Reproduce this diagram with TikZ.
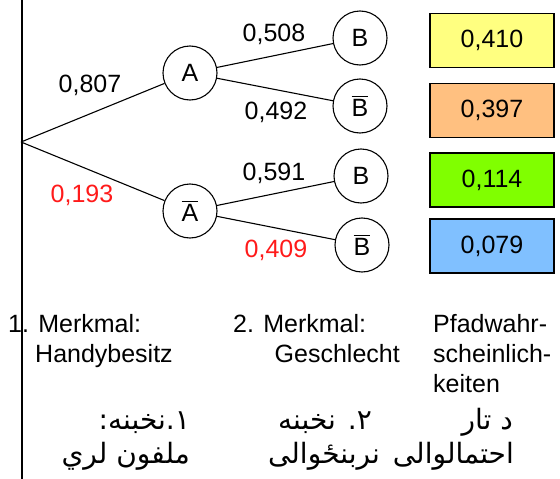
\documentclass[tikz,border=0pt]{standalone}
\usepackage{fontspec}
\setmainfont{Liberation Sans}
\newfontfamily\arabicfont[Script=Arabic]{DejaVu Sans}
\TeXXeTstate=1
\usepackage{xcolor}
\usetikzlibrary{positioning}
\definecolor{pYellow}{HTML}{FFFF80}
\definecolor{pOrange}{HTML}{FFC080}
\definecolor{pGreen}{HTML}{80FF00}
\definecolor{pBlue}{HTML}{80C0FF}
\definecolor{pRed}{HTML}{FF1A1A}
\newcommand{\ovl}[1]{\vbox{\hrule height 1.1pt\kern 2.6pt\hbox{#1}}}

\begin{document}
\begin{tikzpicture}[x=1pt, y=-1pt,
    every node/.style={inner sep=0pt, font=\fontsize{25}{30}\selectfont},
    circ/.style={draw, circle, minimum size=54pt, line width=1.1pt},
    pbox/.style={draw, line width=1.3pt, minimum width=124pt, minimum height=54pt},
    branch/.style={line width=1.1pt},
    arab/.style={anchor=base east, font=\fontsize{28}{36}\arabicfont}]
  \useasboundingbox (0,0) rectangle (560,479);
  \draw[line width=2.5pt] (22,0) -- (22,479);
  % tree
  \coordinate (root) at (21,142);
  \node[circ] (A) at (190,73) {A};
  \node[circ] (Abar) at (190,211) {\ovl{A}};
  \node[circ] (AB) at (360,38) {B};
  \node[circ] (ABbar) at (360,106) {\ovl{B}};
  \node[circ] (AbarB) at (361,176) {B};
  \node[circ] (AbarBbar) at (362,245) {\ovl{B}};
  \draw[branch] (root) -- (A);
  \draw[branch] (root) -- (Abar);
  \draw[branch] (A) -- (AB);
  \draw[branch] (A) -- (ABbar);
  \draw[branch] (Abar) -- (AbarB);
  \draw[branch] (Abar) -- (AbarBbar);
  \node (lA) at (90,85) {0,807};
  \node[text=pRed] (lAbar) at (82,195) {0,193};
  \node (lAB) at (274,34) {0,508};
  \node (lABbar) at (276,112) {0,492};
  \node (lAbarB) at (274,173) {0,591};
  \node[text=pRed] (lAbarBbar) at (276,250) {0,409};
  % path probabilities
  \foreach \v/\c/\y [count=\i] in {410/pYellow/40.5, 397/pOrange/110.5, 114/pGreen/180, 079/pBlue/246}
    \node[pbox, fill=\c] (p\i) at (492,\y) {0,\v};
  % captions
  \node[anchor=base west] (m1a) at (8,332) {1. Merkmal:};
  \node[anchor=base west] (m1b) at (35,362) {Handybesitz};
  \node[anchor=base west] (m2a) at (233,332) {2. Merkmal:};
  \node[anchor=base east] (m2b) at (400,362) {Geschlecht};
  \node[anchor=base west] (m3a) at (433,332) {Pfadwahr-};
  \node[anchor=base west] (m3b) at (433,362) {scheinlich-};
  \node[anchor=base west] (m3c) at (433,392) {keiten};
  \node[arab] (q1a) at (190,429) {\beginR ۱.نخبنه:\endR};
  \node[arab] (q1b) at (190,463) {\beginR ملفون لري\endR};
  \node[arab] (q2a) at (372,429) {\beginR ۲. نخبنه\endR};
  \node[arab] (q2b) at (380,463) {\beginR نربنځوالی\endR};
  \node[arab] (q3a) at (513,429) {\beginR د تار\endR};
  \node[arab] (q3b) at (514,463) {\beginR احتمالوالی\endR};
\end{tikzpicture}
\end{document}
